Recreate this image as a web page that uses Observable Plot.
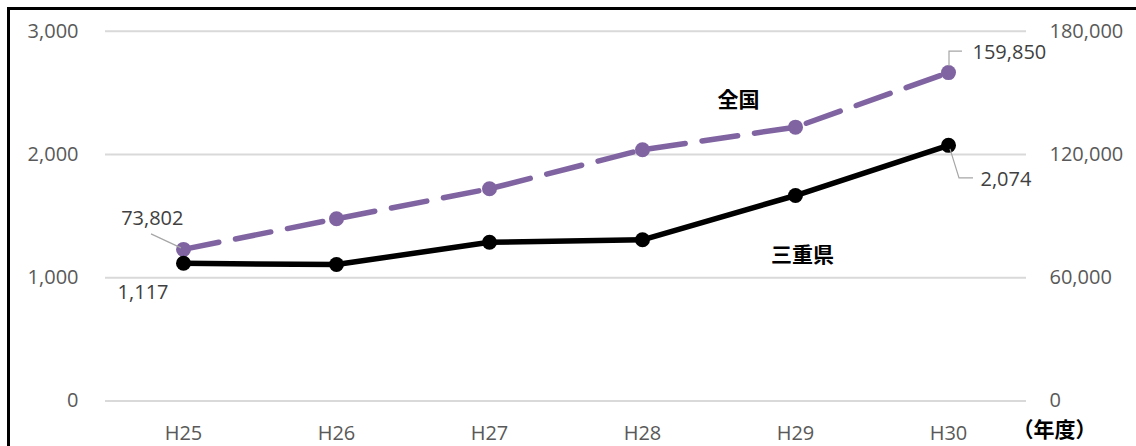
<!DOCTYPE html>
<html>
<head>
<meta charset="utf-8">
<script src="https://cdn.jsdelivr.net/npm/d3@7"></script>
<script src="https://cdn.jsdelivr.net/npm/@observablehq/plot@0.6"></script>
<style>
  html, body { margin: 0; padding: 0; background: #fff; overflow: hidden; }
  #wrap { position: relative; width: 1136px; height: 446px; overflow: hidden; }
  #frame { position: absolute; left: 7px; top: 7px; width: 1200px; height: 500px;
           border-left: 3px solid #000; border-top: 3px solid #000; box-sizing: border-box; }
  #chart { position: absolute; left: 0; top: 0; }
</style>
</head>
<body>
<div id="wrap"><div id="frame"></div><div id="chart"></div></div>
<script>
// ---- data ----
const years = ["H25", "H26", "H27", "H28", "H29", "H30"];
const mie = [1117, 1107, 1288, 1308, 1667, 2074];                  // 三重県 (left axis)
const zenkoku = [73802, 88700, 103300, 122300, 133300, 159850];    // 全国 (right axis)
const leftTicks = [0, 1000, 2000, 3000];
const rightTicks = [0, 60000, 120000, 180000];
const seriesNames = ["全国", "三重県"];
const unitLabel = "（年度）";

// ---- build ----
const ratio = rightTicks[rightTicks.length - 1] / leftTicks[leftTicks.length - 1];
const table = years.map((y, i) => ({year: y, mie: mie[i], zenkoku: zenkoku[i], zs: zenkoku[i] / ratio}));
const fmt = d3.format(",");
const font = "'Open Sans', 'Noto Sans CJK JP', sans-serif";
const gray = "#595959";
const purple = "#8064a2";

function leader(idx, field, pts) {
  return (index, scales) => {
    const d = table[idx];
    const px = scales.x(d.year), py = scales.y(d[field]);
    const p = d3.path();
    pts.forEach(([dx, dy], k) => k ? p.lineTo(px + dx, py + dy) : p.moveTo(px + dx, py + dy));
    return d3.create("svg:path")
      .attr("d", p.toString())
      .attr("fill", "none")
      .attr("stroke", "#a6a6a6")
      .attr("stroke-width", 1.2)
      .node();
  };
}

const last = table.length - 1;

const chart = Plot.plot({
  width: 1136,
  height: 446,
  marginLeft: 105,
  marginRight: 110,
  marginTop: 31,
  marginBottom: 45.5,
  style: {fontFamily: font, fontSize: "20px", background: "transparent", overflow: "visible"},
  x: {type: "point", domain: years, range: [182, 949], padding: 0},
  y: {domain: [0, 3000], range: [400.5, 30.7]},
  marks: [
    Plot.gridY(leftTicks, {stroke: "#d9d9d9", strokeOpacity: 1, strokeWidth: 2}),
    Plot.axisY({anchor: "left", ticks: leftTicks, tickFormat: fmt, tickSize: 0, tickPadding: 27,
                fill: gray, fontSize: 20, label: null}),
    Plot.axisY({anchor: "right", ticks: rightTicks.map(v => v / ratio), tickFormat: d => fmt(Math.round(d * ratio)),
                tickSize: 0, tickPadding: 23, fill: gray, fontSize: 20, label: null}),
    Plot.axisX({tickSize: 0, tickPadding: 24.5, fill: gray, fontSize: 20, label: null}),
    Plot.text([unitLabel], {frameAnchor: "bottom-right", textAnchor: "start", dx: -14, dy: 36,
               fontWeight: "bold", fill: "#000", fontSize: 21}),
    // 全国 (purple dashed)
    Plot.line(table, {x: "year", y: "zs", stroke: purple, strokeWidth: 5.5, strokeDasharray: "36,17",
                      strokeLinecap: "round"}),
    Plot.dot(table, {x: "year", y: "zs", r: 7.5, fill: purple}),
    // 三重県 (black solid)
    Plot.line(table, {x: "year", y: "mie", stroke: "#000", strokeWidth: 5.5}),
    Plot.dot(table, {x: "year", y: "mie", r: 7.5, fill: "#000"}),
    // leader lines
    leader(0, "zs", [[-32, -15], [-2, -1]]),
    leader(last, "zs", [[1, -6], [1, -21], [14, -21]]),
    leader(last, "mie", [[2, 4], [11, 33], [25, 33]]),
    // data labels
    Plot.text([table[0]], {x: "year", y: "zs", text: d => fmt(d.zenkoku), textAnchor: "end", dy: -31, fill: "#404040"}),
    Plot.text([table[0]], {x: "year", y: "mie", text: d => fmt(d.mie), textAnchor: "end", dx: -15, dy: 29, fill: "#404040"}),
    Plot.text([table[last]], {x: "year", y: "zs", text: d => fmt(d.zenkoku), textAnchor: "start", dx: 24, dy: -20, fill: "#404040"}),
    Plot.text([table[last]], {x: "year", y: "mie", text: d => fmt(d.mie), textAnchor: "start", dx: 32, dy: 34, fill: "#404040"}),
    // series labels
    Plot.text([seriesNames[0]], {x: () => years[4], y: () => 2440, dx: -57, fontWeight: "bold", fill: "#000", fontSize: 21}),
    Plot.text([seriesNames[1]], {x: () => years[4], y: () => 1180, dx: 7, fontWeight: "bold", fill: "#000", fontSize: 21})
  ]
});
document.getElementById("chart").appendChild(chart);
</script>
</body>
</html>
